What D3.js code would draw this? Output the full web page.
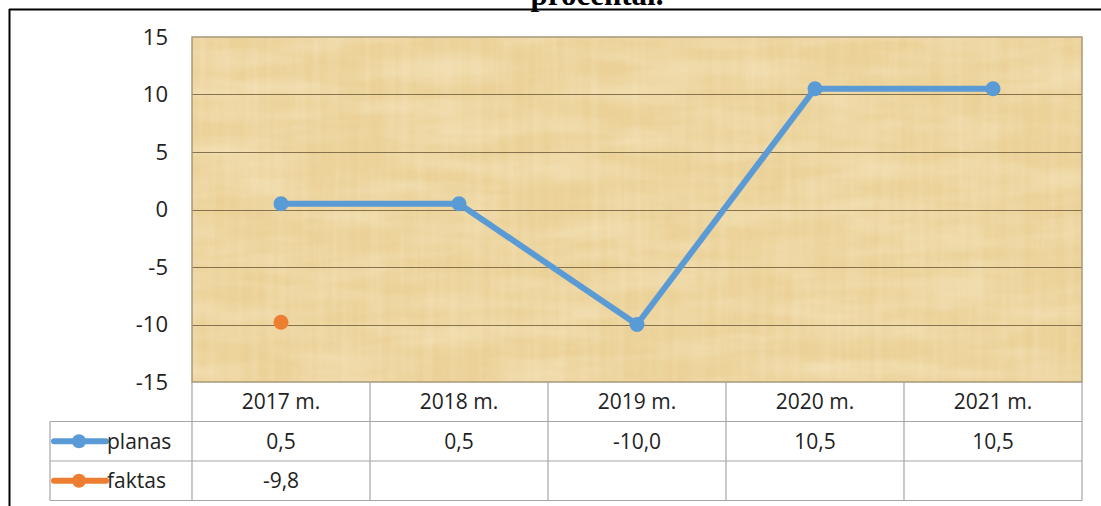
<!DOCTYPE html>
<meta charset="utf-8">
<style>
body { margin: 0; background: #fff; }
text { font-family: "Open Sans", sans-serif; fill: #222; }
.title { font-family: "Liberation Serif", serif; font-weight: bold; font-size: 31px; fill: #000; }
.tbl line { stroke: #a6a6a6; stroke-width: 1.2px; }
</style>
<svg width="1101" height="506"></svg>
<script src="https://d3js.org/d3.v7.min.js"></script>
<script>

var years = ["2017 m.", "2018 m.", "2019 m.", "2020 m.", "2021 m."];
var planas = [0.5, 0.5, -10.0, 10.5, 10.5];
var faktas = [-9.8, null, null, null, null];
var yTicks = [-15, -10, -5, 0, 5, 10, 15];

var series = [
  {name: "planas", values: planas, color: "#5b9bd5"},
  {name: "faktas", values: faktas, color: "#ed7d31"}
];

var svg = d3.select("svg");

var plot = {left: 192, right: 1082, top: 37, bottom: 382};
var rowH = 39.5;

var x = d3.scaleBand().domain(years).range([plot.left, plot.right]);
var y = d3.scaleLinear().domain([-15, 15]).range([plot.bottom, plot.top]);

// title (cut off at top)
svg.append("text").attr("class", "title")
    .attr("x", 597).attr("y", 5)
    .attr("text-anchor", "middle")
    .text("procentai.");

// outer frame
svg.append("line").attr("x1", 9).attr("x2", 1101).attr("y1", 9.5).attr("y2", 9.5)
    .attr("stroke", "#000").attr("stroke-width", 2);
svg.append("line").attr("x1", 9.5).attr("x2", 9.5).attr("y1", 9).attr("y2", 506)
    .attr("stroke", "#000").attr("stroke-width", 2);

// papyrus-like background
var defs = svg.append("defs");
function paper(id, freq, seed, op) {
  var f = defs.append("filter").attr("id", id)
      .attr("x", 0).attr("y", 0).attr("width", 1).attr("height", 1);
  f.append("feTurbulence").attr("type", "fractalNoise")
      .attr("baseFrequency", freq).attr("numOctaves", 3).attr("seed", seed)
      .attr("result", "noise");
  f.append("feColorMatrix").attr("in", "noise").attr("type", "matrix")
      .attr("values", "0 0 0 0 0.97  0 0 0 0 0.9  0 0 0 0 0.72  " + op + " 0 0 0 " + (-op * 0.35))
      .attr("result", "tint");
  f.append("feComposite").attr("in", "tint").attr("in2", "SourceGraphic").attr("operator", "in");
}
paper("pap1", "0.01 0.05", 4, 1.2);
paper("pap2", "0.12 0.006", 9, 1.0);

var pw = plot.right - plot.left, ph = plot.bottom - plot.top;
svg.append("rect")
    .attr("x", plot.left).attr("y", plot.top).attr("width", pw).attr("height", ph)
    .attr("fill", "#ebd197");
svg.append("rect")
    .attr("x", plot.left).attr("y", plot.top).attr("width", pw).attr("height", ph)
    .attr("fill", "#fff").attr("opacity", 0.55).attr("filter", "url(#pap1)");
svg.append("rect")
    .attr("x", plot.left).attr("y", plot.top).attr("width", pw).attr("height", ph)
    .attr("fill", "#fff").attr("opacity", 0.35).attr("filter", "url(#pap2)");

// gridlines
svg.append("g").selectAll("line")
  .data(yTicks.filter(function(d) { return d > -15 && d < 15; }))
  .enter().append("line")
    .attr("x1", plot.left).attr("x2", plot.right)
    .attr("y1", function(d) { return Math.round(y(d)) + 0.5; })
    .attr("y2", function(d) { return Math.round(y(d)) + 0.5; })
    .attr("stroke", "#86724c").attr("stroke-width", 1.2);

svg.append("rect")
    .attr("x", plot.left).attr("y", plot.top).attr("width", pw).attr("height", ph)
    .attr("fill", "none").attr("stroke", "#a8987a").attr("stroke-width", 1.5);

// y axis labels
svg.append("g").selectAll("text")
  .data(yTicks)
  .enter().append("text")
    .attr("x", 168).attr("y", function(d) { return y(d); })
    .attr("dy", "0.35em")
    .attr("text-anchor", "end")
    .style("font-size", "22px")
    .text(function(d) { return d; });

// series
var line = d3.line()
    .defined(function(d) { return d != null; })
    .x(function(d, i) { return x(years[i]) + x.bandwidth() / 2; })
    .y(function(d) { return y(d); });

series.forEach(function(s) {
  svg.append("path")
      .datum(s.values)
      .attr("fill", "none")
      .attr("stroke", s.color)
      .attr("stroke-width", 6)
      .attr("stroke-linejoin", "round")
      .attr("d", line);
  svg.append("g").selectAll("circle")
    .data(s.values.map(function(v, i) { return {v: v, i: i}; }).filter(function(d) { return d.v != null; }))
    .enter().append("circle")
      .attr("cx", function(d) { return x(years[d.i]) + x.bandwidth() / 2; })
      .attr("cy", function(d) { return y(d.v); })
      .attr("r", 7.5)
      .attr("fill", s.color);
});

// data table
var tbl = svg.append("g").attr("class", "tbl");
var tTop = plot.bottom, legLeft = 50;
var tBottom = tTop + rowH * 3;

// vertical lines
x.domain().concat(["end"]).forEach(function(d, i) {
  var xx = i < years.length ? x(d) : plot.right;
  tbl.append("line").attr("x1", xx).attr("x2", xx)
      .attr("y1", tTop).attr("y2", tBottom);
});
tbl.append("line").attr("x1", legLeft).attr("x2", legLeft)
    .attr("y1", tTop + rowH).attr("y2", tBottom);
// horizontal lines
[1, 2, 3].forEach(function(r) {
  tbl.append("line").attr("x1", legLeft).attr("x2", plot.right)
      .attr("y1", tTop + rowH * r).attr("y2", tTop + rowH * r);
});

// header
tbl.selectAll("text.hdr")
  .data(years)
  .enter().append("text").attr("class", "hdr")
    .attr("x", function(d) { return x(d) + x.bandwidth() / 2; })
    .attr("y", tTop + rowH / 2)
    .attr("dy", "0.35em")
    .attr("text-anchor", "middle")
    .style("font-size", "21px")
    .text(function(d) { return d; });

var fmt = function(v) { return v.toFixed(1).replace(".", ","); };

series.forEach(function(s, r) {
  var cy = tTop + rowH * (r + 1) + rowH / 2;
  tbl.append("line").attr("x1", 54).attr("x2", 106)
      .attr("y1", cy).attr("y2", cy)
      .style("stroke", s.color).style("stroke-width", 6)
      .style("stroke-linecap", "round");
  tbl.append("circle").attr("cx", 79).attr("cy", cy).attr("r", 7)
      .attr("fill", s.color);
  tbl.append("text").attr("x", 107).attr("y", cy).attr("dy", "0.35em")
      .style("font-size", "21px").text(s.name);
  tbl.selectAll("text.v" + r)
    .data(s.values.map(function(v, i) { return {v: v, i: i}; }).filter(function(d) { return d.v != null; }))
    .enter().append("text").attr("class", "v" + r)
      .attr("x", function(d) { return x(years[d.i]) + x.bandwidth() / 2; })
      .attr("y", cy).attr("dy", "0.35em")
      .attr("text-anchor", "middle")
      .style("font-size", "21px")
      .text(function(d) { return fmt(d.v); });
});

</script>
